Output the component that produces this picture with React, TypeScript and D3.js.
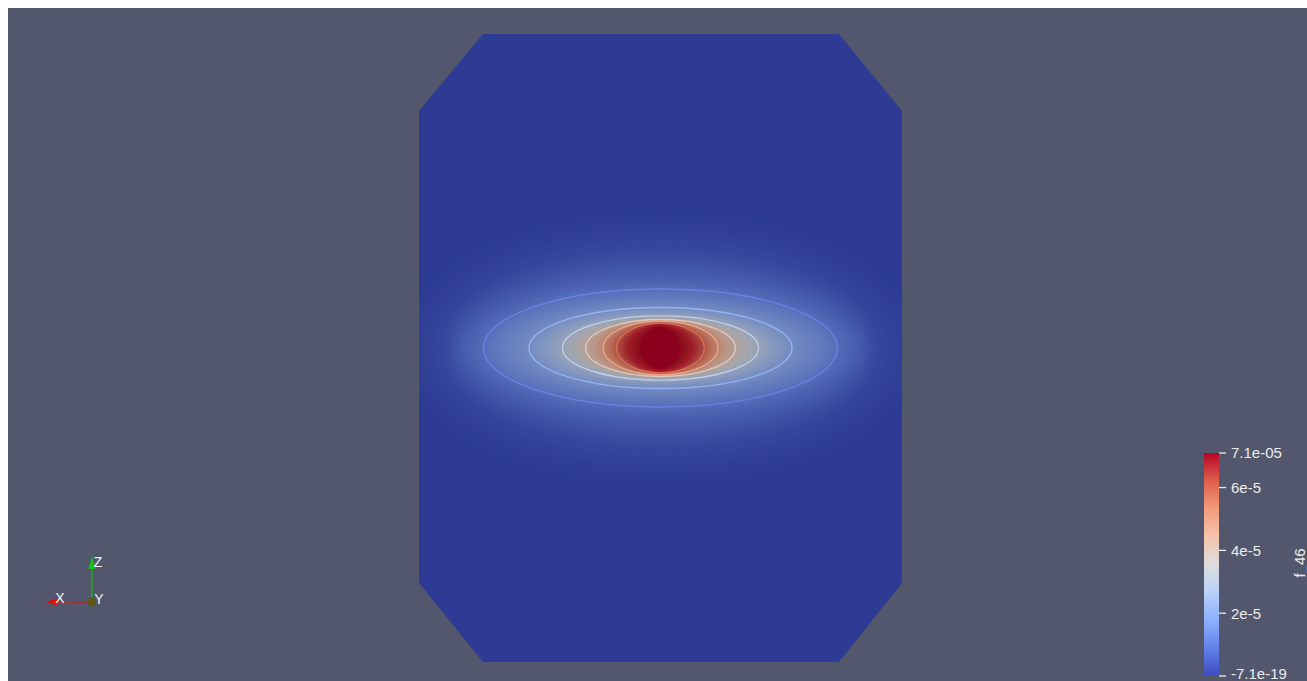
import { useRef, useEffect } from "react";
import * as d3 from "d3";

// field levels (value) and the half widths / half heights of the iso lines, in model units
const levels = [0.25e-5, 0.6e-5, 1e-5, 2e-5, 3e-5, 4e-5, 5e-5, 6e-5, 7e-5];
const radiusX = [0.93, 0.85, 0.733, 0.545, 0.406, 0.31, 0.238, 0.182, 0.128];
const radiusZ = [0.44, 0.33, 0.244, 0.168, 0.133, 0.118, 0.112, 0.103, 0.095];
const contourLevels = [1e-5, 2e-5, 3e-5, 4e-5, 5e-5, 6e-5, 7e-5];
const coreValue = 7.1e-5;
const coreRadiusX = 0.085;
const coreRadiusZ = 0.087;

// mesh outline (x, z) in model units
const outlineX = [-0.735, 0.739, 1, 1, 0.739, -0.735, -1, -1];
const outlineZ = [1.3, 1.3, 0.981, -0.973, -1.3, -1.3, -0.973, 0.981];

// colour bar
const rangeMin = -7.1e-19;
const rangeMax = 7.1e-5;
const tickValues = [7.1e-5, 6e-5, 4e-5, 2e-5, -7.1e-19];
const tickLabels = ["7.1e-05", "6e-5", "4e-5", "2e-5", "-7.1e-19"];
const barTitle = "f_46";

// cool to warm
const mapStops = [0, 0.125, 0.25, 0.375, 0.5, 0.625, 0.75, 0.875, 1];
const mapColors = ["#3b4cc0", "#6282ea", "#8db0fe", "#b8d0f9", "#dddddd", "#f5c4ad", "#f49a7b", "#de604d", "#b40426"];

function App() {
    const ref = useRef(null);

    useEffect(() => {
        const svg = d3.select(ref.current);
        svg.selectAll("*").remove();

        const color = d3.scaleLinear<string>()
            .domain(mapStops.map((t) => rangeMin + t * (rangeMax - rangeMin)))
            .range(mapColors)
            .interpolate(d3.interpolateRgb)
            .clamp(true);
        // surface is lit, so it comes out darker than the map
        const shade = (v) => {
            const c = d3.rgb(color(v));
            return d3.rgb(c.r * 0.77, c.g * 0.77, c.b * 0.77).formatHex();
        };

        const x = d3.scaleLinear().domain([-1, 1]).range([419, 902]);
        const z = d3.scaleLinear().domain([-1.3, 1.3]).range([662, 34]);
        const px = 241.5; // pixels per model unit

        svg.append("rect")
            .attr("x", 0).attr("y", 0)
            .attr("width", 1320).attr("height", 700)
            .attr("fill", "#52576e");

        const g = svg.append("g").attr("transform", "translate(-8,-8)");
        const defs = svg.append("defs");

        const outline = d3.line()(outlineX.map((d, i) => [x(d), z(outlineZ[i])])) + "Z";
        defs.append("clipPath").attr("id", "mesh")
            .append("path")
            .attr("d", outline);

        g.append("path")
            .attr("d", outline)
            .attr("fill", shade(0));

        const field = g.append("g").attr("clip-path", "url(#mesh)");

        levels.forEach((lv, i) => {
            const next = i < levels.length - 1 ? levels[i + 1] : coreValue;
            const sx = i === 0 ? 24 : ((radiusX[i - 1] - radiusX[i]) * px) / 2.6;
            const sz = i === 0 ? 18 : ((radiusZ[i - 1] - radiusZ[i]) * px) / 2.6;
            defs.append("filter")
                .attr("id", "blur" + i)
                .attr("x", "-60%").attr("y", "-60%")
                .attr("width", "220%").attr("height", "220%")
                .append("feGaussianBlur")
                .attr("stdDeviation", Math.max(sx, 1.5) + " " + Math.max(sz, 1.2));
            field.append("ellipse")
                .attr("cx", x(0)).attr("cy", z(0))
                .attr("rx", radiusX[i] * px)
                .attr("ry", radiusZ[i] * px)
                .attr("fill", shade((lv + next) / 2))
                .attr("filter", "url(#blur" + i + ")");
        });

        defs.append("filter")
            .attr("id", "blurCore")
            .attr("x", "-50%").attr("y", "-50%")
            .attr("width", "200%").attr("height", "200%")
            .append("feGaussianBlur")
            .attr("stdDeviation", 1.1);
        field.append("ellipse")
            .attr("cx", x(0)).attr("cy", z(0))
            .attr("rx", coreRadiusX * px)
            .attr("ry", coreRadiusZ * px)
            .attr("fill", shade(coreValue))
            .attr("filter", "url(#blurCore)");

        // iso lines, unlit
        contourLevels.forEach((lv) => {
            const i = levels.indexOf(lv);
            field.append("ellipse")
                .attr("cx", x(0)).attr("cy", z(0))
                .attr("rx", radiusX[i] * px)
                .attr("ry", radiusZ[i] * px)
                .attr("fill", "none")
                .attr("stroke", color(lv))
                .attr("stroke-opacity", 0.85)
                .attr("stroke-width", 1.4);
        });

        // colour bar
        const bar = d3.scaleLinear().domain([rangeMin, rangeMax]).range([676, 453]);
        const grad = defs.append("linearGradient")
            .attr("id", "cbar")
            .attr("x1", 0).attr("y1", 1).attr("x2", 0).attr("y2", 0);
        mapStops.forEach((t, i) => {
            grad.append("stop").attr("offset", t).attr("stop-color", mapColors[i]);
        });
        g.append("rect")
            .attr("x", 1204).attr("y", bar(rangeMax))
            .attr("width", 15).attr("height", bar(rangeMin) - bar(rangeMax))
            .attr("fill", "url(#cbar)");

        const ticks = g.append("g").attr("font-family", "'Liberation Sans', Arial, sans-serif")
            .attr("font-size", 15).attr("fill", "#ececec");
        tickValues.forEach((v, i) => {
            ticks.append("line")
                .attr("x1", 1219).attr("x2", 1226)
                .attr("y1", bar(v)).attr("y2", bar(v))
                .attr("stroke", "#ececec").attr("stroke-width", 1.3);
            ticks.append("text")
                .attr("x", 1231).attr("y", bar(v))
                .attr("dy", i === tickValues.length - 1 ? "0.18em" : "0.36em")
                .text(tickLabels[i]);
        });
        ticks.append("text")
            .attr("transform", "translate(1305,563) rotate(-90)")
            .attr("text-anchor", "middle")
            .text(barTitle);

        // orientation axes
        const tri = g.append("g");
        tri.append("line").attr("x1", 92).attr("y1", 602).attr("x2", 56).attr("y2", 602)
            .attr("stroke", "#e01010").attr("stroke-width", 1.2);
        tri.append("path").attr("d", "M45,602L57,598.5L57,605.5Z").attr("fill", "#e01010");
        tri.append("line").attr("x1", 92).attr("y1", 602).attr("x2", 92).attr("y2", 568)
            .attr("stroke", "#18c018").attr("stroke-width", 1.2);
        tri.append("path").attr("d", "M92,556L88.5,569L95.5,569Z").attr("fill", "#18c018");
        tri.append("circle").attr("cx", 92).attr("cy", 602).attr("r", 4.5).attr("fill", "#5e5614");
        const lab = tri.append("g").attr("font-family", "'Liberation Sans', Arial, sans-serif")
            .attr("font-size", 14).attr("fill", "#f4f4f4").attr("text-anchor", "middle");
        lab.append("text").attr("x", 60).attr("y", 603).text("X");
        lab.append("text").attr("x", 98).attr("y", 567).text("Z");
        lab.append("text").attr("x", 99).attr("y", 604).text("Y");
    }, []);

    return (
        <div>
            <style>{"body{overflow:hidden}"}</style>
            <svg
                ref={ref}
                width="1300"
                height="673"
                style={{ position: "absolute", left: 8, top: 8, display: "block" }}
            />
        </div>
    );
}

export default App;
